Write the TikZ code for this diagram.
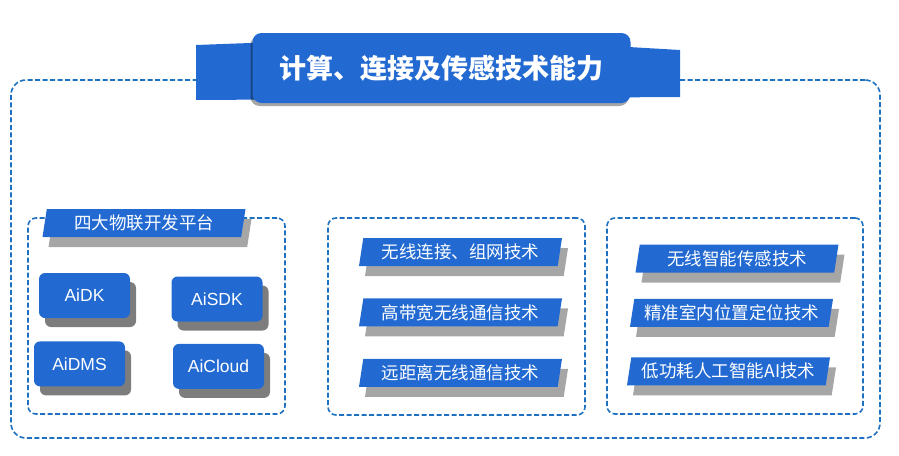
\documentclass[tikz,border=0pt]{standalone}
\usepackage{fontspec}
\setmainfont{Liberation Sans}
\newfontfamily\cjk{Noto Sans CJK SC}
\usetikzlibrary{shapes.geometric, shadows, positioning}
\definecolor{azul}{RGB}{34,106,210}
\definecolor{trazo}{RGB}{30,112,192}
\definecolor{sombra}{RGB}{166,166,166}
\definecolor{sombraosc}{RGB}{125,125,125}

\begin{document}
\begin{tikzpicture}[x=1pt, y=-1pt,
            marco/.style  ={rectangle, draw=trazo, line width=1.6pt, dash pattern=on 5pt off 2.5pt,
                            inner sep=0pt},
            titulo/.style ={rectangle, rounded corners=9pt, fill=azul, text=white,
                            minimum width=378pt, minimum height=70pt,
                            font=\cjk\bfseries\fontsize{27}{27}\selectfont,
                            drop shadow={shadow xshift=-2pt, shadow yshift=-3pt, fill=black, opacity=.35}},
            cinta/.style  ={trapezium, trapezium left angle=78, trapezium right angle=102,
                            trapezium stretches body, fill=azul, text=white, inner sep=2pt,
                            minimum width=203pt, minimum height=28pt,
                            font=\cjk\fontsize{17.5}{18}\selectfont,
                            drop shadow={shadow xshift=6pt, shadow yshift=-10pt, fill=sombra, opacity=1}},
            modulo/.style ={rectangle, rounded corners=6pt, fill=azul, text=white,
                            minimum width=91pt, minimum height=45pt,
                            font=\fontsize{17.5}{18}\selectfont,
                            drop shadow={shadow xshift=6pt, shadow yshift=-9pt, fill=sombraosc, opacity=1}}
        ]
            \useasboundingbox (0,0) rectangle (899,455);

            % frames
            \node[marco, rounded corners=15pt, minimum width=869pt, minimum height=358pt] (exterior) at (445.5,259) {};
            \node[marco, rounded corners=8pt, minimum width=257pt, minimum height=196pt] (plataforma) at (156.5,316) {};
            \node[marco, rounded corners=8pt, minimum width=257pt, minimum height=197pt] (conexion) at (456.5,316.5) {};
            \node[marco, rounded corners=8pt, minimum width=256pt, minimum height=196pt] (sensado) at (735,316) {};

            % title banner
            \fill[azul] (196,45) -- (440,36) -- (680,50) -- (680,97) -- (196,100) -- cycle;
            \node[titulo] (cabecera) at (441.5,68) {计算、连接及传感技术能力};

            % left panel
            \node[cinta] (plat) at (144,223) {四大物联开发平台};
            \node[modulo] (aidk)    at (84.5,295.5) {AiDK};
            \node[modulo] (aisdk)   at (217,299)    {AiSDK};
            \node[modulo, below=23pt of aidk, xshift=-5pt]    (aidms)   {AiDMS};
            \node[modulo, below=22pt of aisdk, xshift=1.5pt]  (aicloud) {AiCloud};

            % middle panel
            \node[cinta] (red)    at (460.5,252) {无线连接、组网技术};
            \node[cinta, below=32pt of red]    (banda)  {高带宽无线通信技术};
            \node[cinta, below=32pt of banda]  (lejos)  {远距离无线通信技术};

            % right panel
            \node[cinta] (sensor) at (737,258.5) {无线智能传感技术};
            \node[cinta, below=26pt of sensor, xshift=-5.5pt] (ubica)  {精准室内位置定位技术};
            \node[cinta, below=30pt of ubica, xshift=-3pt]    (bajo)   {低功耗人工智能AI技术};

        \end{tikzpicture}
\end{document}
